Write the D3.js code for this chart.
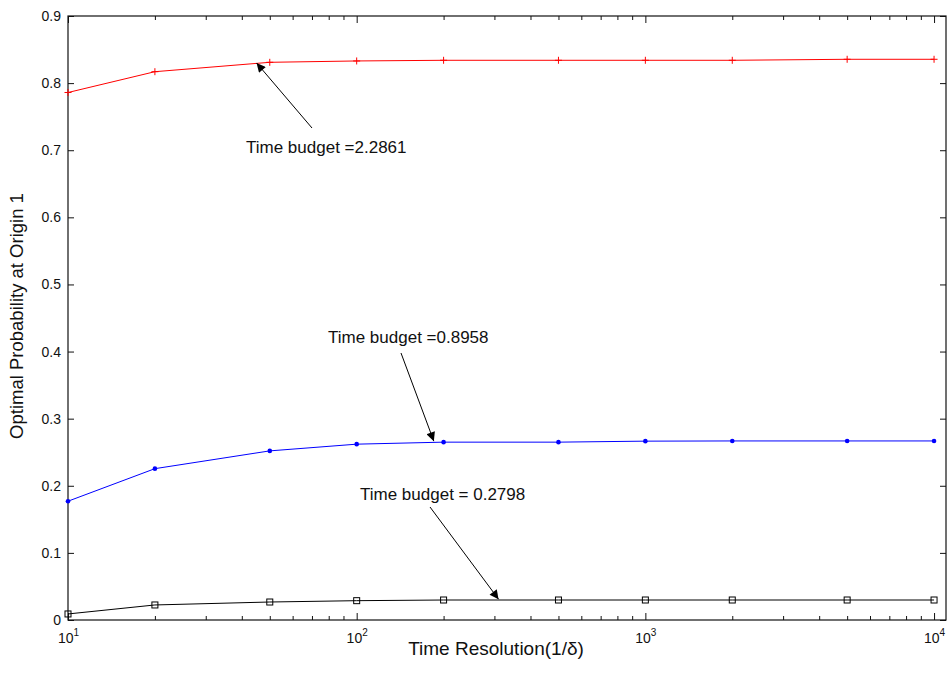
<!DOCTYPE html>
<html>
<head>
<meta charset="UTF-8" />
<script src="https://d3js.org/d3.v7.min.js"></script>
<title>Optimal Probability vs Time Resolution</title>
<style>
  body { margin: 0; background: #fff; }
  text { font-family: "Liberation Sans", Arial, sans-serif; fill: #111; }
</style>
</head>
<body>
<svg id="chart" width="949" height="691"></svg>
<script>
// time resolution values (1/delta)
var resolution = [10, 20, 50, 100, 200, 500, 1000, 2000, 5000, 10000];

// optimal probability at origin 1, one array per time budget
var budgetHigh = [0.786, 0.817, 0.831, 0.833, 0.834, 0.834, 0.834, 0.834, 0.8355, 0.8355];
var budgetMid  = [0.177, 0.2255, 0.252, 0.262, 0.265, 0.265, 0.2665, 0.2668, 0.2668, 0.2668];
var budgetLow  = [0.009, 0.0224, 0.0268, 0.0288, 0.0298, 0.0298, 0.0298, 0.0298, 0.0298, 0.0298];

var yTicks = [0, 0.1, 0.2, 0.3, 0.4, 0.5, 0.6, 0.7, 0.8, 0.9];
var xMajor = [10, 100, 1000, 10000];

// annotations: label, label anchor point, arrow start, arrow tip (data coords for tip)
var notes = [
  {label: "Time budget =2.2861", lx: 246, ly: 153, from: [312, 128], to: [45, 0.83]},
  {label: "Time budget =0.8958", lx: 328, ly: 343, from: [401, 353], to: [185, 0.2665]},
  {label: "Time budget = 0.2798", lx: 360, ly: 500, from: [430, 507], to: [310, 0.031]}
];

var svg = d3.select("#chart");
var padL = 68, padR = 946, padT = 16, padB = 620;

var x = d3.scaleLog().domain([10, 11000]).range([padL, padR]);
var y = d3.scaleLinear().domain([0, 0.9]).range([padB, padT]);

// minor ticks on the log axis
var xMinor = [];
[10, 100, 1000].forEach(function(d) {
  for (var k = 2; k <= 9; k++) xMinor.push(d * k);
});

function styleAxis(g) {
  g.select(".domain").remove();
  g.selectAll("line").attr("stroke", "#111");
  g.selectAll("text").attr("font-size", 14).attr("fill", "#111");
}

// bottom axis
svg.append("g").attr("transform", "translate(0," + padB + ")")
  .call(d3.axisBottom(x).tickValues(xMinor).tickSize(-4).tickFormat(""))
  .call(styleAxis);
var xb = svg.append("g").attr("transform", "translate(0," + padB + ")")
  .call(d3.axisBottom(x).tickValues(xMajor).tickSize(-7).tickPadding(13))
  .call(styleAxis);
xb.selectAll(".tick text").each(function(d) {
  var t = d3.select(this).text(null);
  t.append("tspan").text("10");
  t.append("tspan").attr("dy", -7).attr("font-size", 10).text(Math.round(Math.log10(d)));
});

// top axis (mirror)
svg.append("g").attr("transform", "translate(0," + padT + ")")
  .call(d3.axisTop(x).tickValues(xMinor).tickSize(-4).tickFormat(""))
  .call(styleAxis);
svg.append("g").attr("transform", "translate(0," + padT + ")")
  .call(d3.axisTop(x).tickValues(xMajor).tickSize(-7).tickFormat(""))
  .call(styleAxis);

// left axis
svg.append("g").attr("transform", "translate(" + padL + ",0)")
  .call(d3.axisLeft(y).tickValues(yTicks).tickSize(-6).tickPadding(7)
    .tickFormat(function(d) { return d === 0 ? "0" : d3.format(".1f")(d); }))
  .call(styleAxis);

// right axis (mirror)
svg.append("g").attr("transform", "translate(" + padR + ",0)")
  .call(d3.axisRight(y).tickValues(yTicks).tickSize(-6).tickFormat(""))
  .call(styleAxis);

// box
svg.append("rect")
  .attr("x", padL).attr("y", padT)
  .attr("width", padR - padL).attr("height", padB - padT)
  .attr("fill", "none").attr("stroke", "#111").attr("stroke-width", 1.2);

var line = d3.line()
  .x(function(d, i) { return x(resolution[i]); })
  .y(function(d) { return y(d); });

// red series with + markers
svg.append("path").datum(budgetHigh).attr("d", line)
  .attr("fill", "none").attr("stroke", "#ff0000").attr("stroke-width", 1);
svg.append("g").selectAll("path").data(budgetHigh).join("path")
  .attr("d", function(d, i) {
    var cx = x(resolution[i]), cy = y(d), s = 3.5;
    return "M" + (cx - s) + "," + cy + "H" + (cx + s) + "M" + cx + "," + (cy - s) + "V" + (cy + s);
  })
  .attr("stroke", "#ff0000").attr("stroke-width", 1);

// blue series with dot markers
svg.append("path").datum(budgetMid).attr("d", line)
  .attr("fill", "none").attr("stroke", "#0000ff").attr("stroke-width", 1);
svg.append("g").selectAll("circle").data(budgetMid).join("circle")
  .attr("cx", function(d, i) { return x(resolution[i]); })
  .attr("cy", function(d) { return y(d); })
  .attr("r", 2.3).attr("fill", "#0000ff");

// black series with square markers
svg.append("path").datum(budgetLow).attr("d", line)
  .attr("fill", "none").attr("stroke", "#000").attr("stroke-width", 1);
svg.append("g").selectAll("rect").data(budgetLow).join("rect")
  .attr("x", function(d, i) { return x(resolution[i]) - 3; })
  .attr("y", function(d) { return y(d) - 3; })
  .attr("width", 6).attr("height", 6)
  .attr("fill", "none").attr("stroke", "#000").attr("stroke-width", 1);

// arrowhead
svg.append("defs").append("marker")
  .attr("id", "head").attr("viewBox", "0 0 10 10")
  .attr("refX", 10).attr("refY", 5)
  .attr("markerWidth", 12).attr("markerHeight", 9)
  .attr("markerUnits", "userSpaceOnUse")
  .attr("orient", "auto")
  .append("path").attr("d", "M0,0L10,5L0,10Z").attr("fill", "#000");

notes.forEach(function(n) {
  svg.append("text").attr("x", n.lx).attr("y", n.ly)
    .attr("font-size", 17).text(n.label);
  svg.append("line")
    .attr("x1", n.from[0]).attr("y1", n.from[1])
    .attr("x2", x(n.to[0])).attr("y2", y(n.to[1]))
    .attr("stroke", "#000").attr("stroke-width", 1)
    .attr("marker-end", "url(#head)");
});

// axis titles
svg.append("text")
  .attr("x", 496).attr("y", 655)
  .attr("text-anchor", "middle").attr("font-size", 19)
  .text("Time Resolution(1/δ)");
svg.append("text")
  .attr("transform", "translate(23,316) rotate(-90)")
  .attr("text-anchor", "middle").attr("font-size", 18.5)
  .text("Optimal Probability at Origin 1");
</script>
</body>
</html>
